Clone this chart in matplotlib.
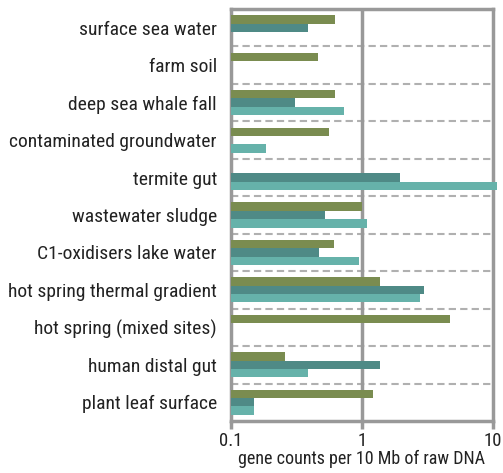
import numpy as np
import matplotlib
matplotlib.use("Agg")
import matplotlib.pyplot as plt

plt.rcParams['font.family'] = ['Roboto Condensed', 'Archivo Narrow', 'DejaVu Sans']

sites = ['surface sea water', 'farm soil', 'deep sea whale fall',
         'contaminated groundwater', 'termite gut', 'wastewater sludge',
         'C1-oxidisers lake water', 'hot spring thermal gradient',
         'hot spring (mixed sites)', 'human distal gut', 'plant leaf surface']

nan = np.nan
# gene counts per 10 Mb, three gene groups
green = [0.62, 0.46, 0.62, 0.56, nan, 1.0, 0.61, 1.37, 4.68, 0.26, 1.21]
dark = [0.39, nan, 0.31, nan, 1.95, 0.52, 0.47, 2.97, nan, 1.37, 0.151]
light = [nan, nan, 0.73, 0.186, 10.7, 1.09, 0.95, 2.77, nan, 0.39, 0.151]

colors = ['#7a8c50', '#4f8a86', '#66b2aa']
xmin = 0.1

fig = plt.figure(figsize=(5.03, 4.73), dpi=100)
ax = fig.add_axes([0.459, 0.110, 0.521, 0.871])
ax.set_xscale('log')

y = np.arange(len(sites))
h = 0.223
for k, vals in enumerate([green, dark, light]):
    vals = np.array(vals, dtype=float)
    ax.barh(y + (k - 1) * h, vals - xmin, left=xmin, height=h,
            color=colors[k], zorder=5, clip_on=False)

# dashed separators between sites
for b in y[:-1] + 0.5:
    ax.axhline(b, color='#b0b0b0', lw=1.5, ls=(0, (3.5, 2)), zorder=1)
ax.axvline(1, color='#999999', lw=2.5, zorder=2)

ax.set_xlim(0.1, 10)
ax.set_ylim(len(sites) - 0.5, -0.5)
ax.set_yticks(y)
ax.set_yticklabels(sites, fontsize=14, color='#222222')
ax.tick_params(axis='y', length=0, pad=10)
ax.set_xticks([0.1, 1, 10])
ax.set_xticklabels(['0.1', '1', '10'], fontsize=13.5, color='#222222')
ax.minorticks_off()
ax.tick_params(axis='x', length=6, width=2.5, color='#999999', pad=2)
for s in ax.spines.values():
    s.set_color('#999999')
    s.set_linewidth(2.5)
ax.set_xlabel('gene counts per 10 Mb of raw DNA', fontsize=13, color='#222222', labelpad=0)

fig.savefig('out.png', dpi=100)
